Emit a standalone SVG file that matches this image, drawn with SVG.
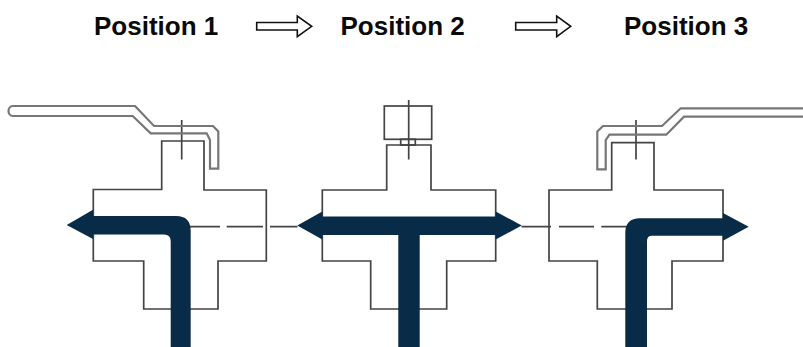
<svg xmlns="http://www.w3.org/2000/svg" width="803" height="347" viewBox="0 0 803 347">
<style>
.t{font:bold 26px "Liberation Sans",Arial,sans-serif;fill:#0a0a0a}
.l{fill:none;stroke:#444;stroke-width:1.7}
.h{fill:none;stroke:#777;stroke-width:2.2}
.a{fill:none;stroke:#111;stroke-width:1.6}
.f{fill:#082b47}
</style>
<rect width="803" height="347" fill="#fff"/>
<g id="label-1"><text class="t" x="94" y="35">Position 1</text></g>
<g id="label-2"><text class="t" x="340.500" y="35">Position 2</text></g>
<g id="label-3"><text class="t" x="624" y="35">Position 3</text></g>
<g id="connectors">
<path class="a" d="M256.700 22.500H297.300V16L311.700 26.300L297.300 36.700V30H256.700Z"/>
<path class="a" d="M515.700 22.500H556.700V16L570.700 26.300L556.700 36.700V30H515.700Z"/>
<path class="l" d="M188 226.700H220M226.700 226.700H263M270 226.700H297.500M521.500 226.700H551M559 226.700H594M601.300 226.700H628"/>
</g>
<g id="valve-1">
<path class="l" d="M161.700 189.500V141H204V190H266.300V261H218V309H143.700V261H93.300V189.500Z"/>
<path class="l" d="M181.700 120V159.500"/>
<path class="h" d="M135 106L154 126H213L218.300 131.500V168.700H210V140L206.700 133.300H150.700L132.700 116H13C7 116 7 106 13 106Z"/>
<path class="f" d="M66.700 225L93 209.700V216H176Q190.700 216 190.700 231V347H170.700V241Q170.700 234.500 164 234.500H93V239Z"/>
</g>
<g id="valve-2">
<path class="l" d="M386.700 190V145H431V190H495.700V261H446.700V309H370.700V261H322.300V190Z"/>
<rect class="l" x="384.300" y="106" width="47.400" height="33.300"/>
<rect class="l" x="400.700" y="139.300" width="14.600" height="5.700"/>
<path class="l" d="M408.700 100V159.500"/>
<path class="f" d="M297.300 225.500L322.300 211.500V216.500H495.700V211.500L521.700 225.500L495.700 239.500V235H419.700V347H398.300V235H322.300V239.500Z"/>
</g>
<g id="valve-3">
<path class="l" d="M611.700 190V142.700H654V190H723V261H672V309H597.300V261H549V190Z"/>
<path class="l" d="M636 120V159.500"/>
<path class="h" d="M803 108.300H680.700L662 126H603L597.300 131.500V169.300H605.700V140L609.500 134.700H666.300L684 116.700H803"/>
<path class="f" d="M748.700 226.700L723 213V218.300H640Q625.300 218.300 625.300 233V347H647V241Q647 235.700 652 235.700H723V240.700Z"/>
</g>
</svg>
